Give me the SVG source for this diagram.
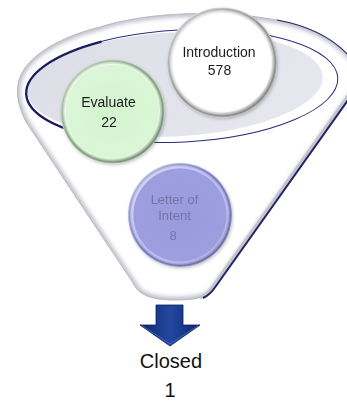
<svg xmlns="http://www.w3.org/2000/svg" width="347" height="403" viewBox="0 0 347 403">
  <style>
    .lbl { font-family: "Liberation Sans", Arial, sans-serif; text-anchor: middle; }
    .dark { fill: #1c1c1c; font-size: 14px; }
    .lav { fill: #7474a8; font-size: 13px; }
    .big { fill: #111111; font-size: 20px; }
  </style>
  <defs>
    <!-- funnel silhouette: rim on top, cone down to a rounded spout -->
    <path id="funnelShape" d="M 26,122 C 19,108 16,95 18,85 C 21,60 55,38 100,27 C 140,14 210,8 277,20 C 310,26 335,40 350,57 L 362,72 L 355,90 L 216,286 C 209,298 195,300 175,300 C 153,300 139,296 133,283 Z"/>
    <clipPath id="funnelClip"><use href="#funnelShape"/></clipPath>
    <filter id="soft" x="-10%" y="-10%" width="120%" height="120%"><feGaussianBlur stdDeviation="2.2"/></filter>
    <filter id="soft1" x="-10%" y="-10%" width="120%" height="120%"><feGaussianBlur stdDeviation="0.7"/></filter>
    <filter id="shadow" x="-20%" y="-20%" width="140%" height="140%">
      <feDropShadow dx="1" dy="1.5" stdDeviation="1.5" flood-color="#000" flood-opacity="0.22"/>
    </filter>
    <linearGradient id="mouthFill" x1="0" y1="0" x2="1" y2="0.3">
      <stop offset="0" stop-color="#dcdde6"/>
      <stop offset="1" stop-color="#e5e6ee"/>
    </linearGradient>
    <!-- glass rings for the bubbles -->
    <radialGradient id="ringGray" cx="0.5" cy="0.5" r="0.5">
      <stop offset="0" stop-color="#ffffff"/>
      <stop offset="0.885" stop-color="#ffffff"/>
      <stop offset="0.905" stop-color="#f2f2f2"/>
      <stop offset="0.94" stop-color="#c6c6c6"/>
      <stop offset="0.97" stop-color="#8c8c8c"/>
      <stop offset="1" stop-color="#d0d0d0"/>
    </radialGradient>
    <radialGradient id="ringGreen" cx="0.5" cy="0.5" r="0.5">
      <stop offset="0" stop-color="#d3f3cf"/>
      <stop offset="0.885" stop-color="#daf6d6"/>
      <stop offset="0.905" stop-color="#eafae7"/>
      <stop offset="0.94" stop-color="#b3d1af"/>
      <stop offset="0.97" stop-color="#7b997a"/>
      <stop offset="1" stop-color="#b8ceb6"/>
    </radialGradient>
    <radialGradient id="ringPurple" cx="0.5" cy="0.5" r="0.5">
      <stop offset="0" stop-color="#9a9bdd"/>
      <stop offset="0.885" stop-color="#9d9ee0"/>
      <stop offset="0.905" stop-color="#c3c4f3"/>
      <stop offset="0.94" stop-color="#a8a9e6"/>
      <stop offset="0.97" stop-color="#6e6fb5"/>
      <stop offset="1" stop-color="#aaabd8"/>
    </radialGradient>
    <linearGradient id="ringShade" x1="0" y1="0" x2="1" y2="1">
      <stop offset="0" stop-color="#ffffff" stop-opacity="0.55"/>
      <stop offset="0.5" stop-color="#ffffff" stop-opacity="0"/>
      <stop offset="1" stop-color="#000000" stop-opacity="0.22"/>
    </linearGradient>
    <linearGradient id="arrowFill" x1="0" y1="0" x2="1" y2="0">
      <stop offset="0" stop-color="#0b2672"/>
      <stop offset="0.5" stop-color="#2448a0"/>
      <stop offset="1" stop-color="#0b2672"/>
    </linearGradient>
  </defs>

  <!-- funnel body -->
  <g id="funnel">
    <use href="#funnelShape" fill="#ffffff"/>
    <!-- inner shading along the edges -->
    <use href="#funnelShape" fill="none" stroke="#bcbdc8" stroke-width="6" filter="url(#soft)" clip-path="url(#funnelClip)"/>
    <use href="#funnelShape" fill="none" stroke="#b4b4be" stroke-width="0.9"/>
    <!-- dark rim edge, top right -->
    <path d="M 277,20 C 310,26 335,40 350,57" fill="none" stroke="#2a2a72" stroke-width="1.2"/>
    <!-- dark outline along the right side of the cone -->
    <path d="M 358,86 L 216,286 C 212,292 208,296 203,298" fill="none" stroke="#c4c4cc" stroke-width="3" filter="url(#soft1)" transform="translate(-3,0)"/>
    <path d="M 358,86 L 216,286 C 212,292 208,296 203,298" fill="none" stroke="#23236a" stroke-width="2"/>
    <!-- mouth of the funnel -->
    <g transform="translate(182,86) rotate(-3)">
      <ellipse cx="0" cy="0" rx="156" ry="56" fill="#ffffff" stroke="#2c2c7a" stroke-width="1"/>
      <ellipse cx="-7" cy="-2" rx="148" ry="52" fill="url(#mouthFill)"/>
      <path d="M -78,-48.5 A 156 56 0 0 0 -78,48.5" fill="none" stroke="#1c1c5c" stroke-width="2.3"/>
    </g>
  </g>

  <!-- stage bubbles -->
  <g id="introduction" filter="url(#shadow)">
    <circle cx="222" cy="62.5" r="55" fill="url(#ringGray)"/>
    <circle cx="222" cy="62.5" r="52.5" fill="none" stroke="url(#ringShade)" stroke-width="5"/>
    <text class="lbl dark" x="219" y="57">Introduction</text>
    <text class="lbl dark" x="219.5" y="75">578</text>
  </g>

  <g id="evaluate" filter="url(#shadow)">
    <circle cx="112.5" cy="111.5" r="52" fill="url(#ringGreen)"/>
    <circle cx="112.5" cy="111.5" r="49.5" fill="none" stroke="url(#ringShade)" stroke-width="5"/>
    <text class="lbl dark" x="108.5" y="107" font-size="13.5">Evaluate</text>
    <text class="lbl dark" x="109" y="127" font-size="13.5">22</text>
  </g>

  <g id="letter-of-intent" filter="url(#shadow)">
    <circle cx="180" cy="215" r="52" fill="url(#ringPurple)"/>
    <circle cx="180" cy="215" r="49.5" fill="none" stroke="url(#ringShade)" stroke-width="5"/>
    <text class="lbl lav" x="174.5" y="204">Letter of</text>
    <text class="lbl lav" x="174.5" y="219.5">Intent</text>
    <text class="lbl lav" x="173" y="240">8</text>
  </g>

  <!-- outlet arrow -->
  <g id="connectors">
    <polygon points="156,305 183,305 183,325 200,325 170,346 140,325 156,325" fill="url(#arrowFill)" stroke="#0a1f60" stroke-width="0.8"/>
    <polyline points="142,325.5 170,344 198,325.5" fill="none" stroke="#5a78c6" stroke-width="0.8" opacity="0.8"/>
  </g>

  <g id="closed">
    <text class="lbl big" x="171" y="368">Closed</text>
    <text class="lbl big" x="170" y="397" font-size="19">1</text>
  </g>
</svg>
